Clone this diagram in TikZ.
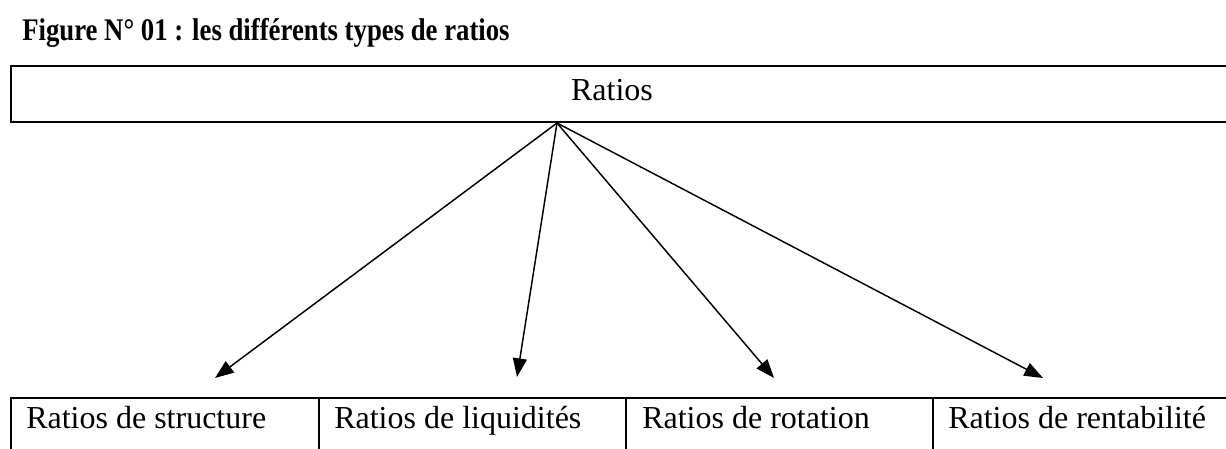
\documentclass[tikz,border=0pt]{standalone}
\usepackage{fontspec}
\setmainfont{Liberation Serif}
\newfontfamily\titlefont[FakeStretch=0.85]{Liberation Serif}
\usetikzlibrary{arrows.meta}
\begin{document}
\begin{tikzpicture}[x=0.75pt,y=-0.75pt,
  frame/.style={line width=1.3pt},
  arr/.style={line width=1.1pt,-{Triangle[length=14pt,width=10.5pt]}},
  celltext/.style={anchor=base west,inner sep=0pt,font=\fontsize{24pt}{28pt}\selectfont},
  titletext/.style={anchor=base west,inner sep=0pt,font=\titlefont\fontsize{23.6pt}{28pt}\selectfont\bfseries}]
\useasboundingbox (0,0) rectangle (1226,449);
% title
\node[titletext] (title) at (22,41) {Figure N° 01 : les différents types de ratios};
% top box (open on the right)
\draw[frame] (1226,66) -- (11,66) -- (11,122) -- (1226,122);
\node[celltext,anchor=base] (ratios) at (612,101) {Ratios};
\coordinate (hub) at (557,123);
% bottom table
\draw[frame] (11,449) -- (11,398) -- (1226,398);
\draw[frame] (319,398) -- (319,449);
\draw[frame] (626,398) -- (626,449);
\draw[frame] (933,398) -- (933,449);
\node[celltext] (c1) at (26,428) {Ratios de structure};
\node[celltext] (c2) at (334,428) {Ratios de liquidités};
\node[celltext] (c3) at (642,428) {Ratios de rotation};
\node[celltext] (c4) at (948,428) {Ratios de rentabilité};
% arrow tips
\coordinate (t1) at (215,378);
\coordinate (t2) at (517,377);
\coordinate (t3) at (774,378);
\coordinate (t4) at (1043,378);
\draw[arr] (hub) -- (t1);
\draw[arr] (hub) -- (t2);
\draw[arr] (hub) -- (t3);
\draw[arr] (hub) -- (t4);
\end{tikzpicture}
\end{document}
